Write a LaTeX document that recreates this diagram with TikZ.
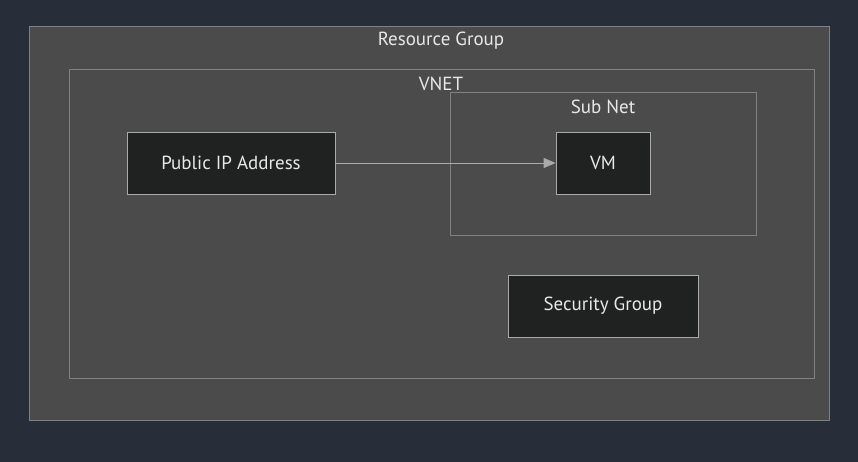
\documentclass[tikz,border=0pt]{standalone}
\usepackage{fontspec}
\setmainfont{PT Sans}
\usetikzlibrary{arrows.meta}
\definecolor{bgdark}{RGB}{40,45,58}
\definecolor{grpfill}{RGB}{74,75,74}
\definecolor{grpline}{RGB}{128,130,128}
\definecolor{boxfill}{RGB}{32,34,33}
\definecolor{boxline}{RGB}{170,170,170}
\definecolor{txt}{RGB}{232,232,232}
\begin{document}
\begin{tikzpicture}[every node/.style={font=\fontsize{10.8}{12}\selectfont,text=txt},
  res/.style={draw=boxline,fill=boxfill,thin,minimum height=1.24cm,inner sep=0pt}]
% background and groups
\fill[bgdark] (0,0) rectangle (17.16,9.24);
\draw[grpline,fill=grpfill,thin] (0.58,0.84) rectangle (16.58,8.72);
\node (rg) at (8.82,8.42) {Resource Group};
\draw[grpline,fill=grpfill,thin] (1.38,1.68) rectangle (16.28,7.86);
\node (vnet) at (8.82,7.56) {VNET};
\draw[grpline,fill=grpfill,thin] (9.0,4.54) rectangle (15.12,7.40);
\node (subnet) at (12.06,7.10) {Sub Net};
% resources
\node[res,minimum width=4.16cm] (pip) at (4.62,5.98) {Public IP Address};
\node[res,minimum width=1.88cm] (vm) at (12.06,5.98) {VM};
\node[res,minimum width=3.8cm] (sg) at (12.06,3.12) {Security Group};
\draw[boxline,thin,-{Triangle[length=2.4mm,width=2mm]}] (pip)--(vm);
\end{tikzpicture}
\end{document}
